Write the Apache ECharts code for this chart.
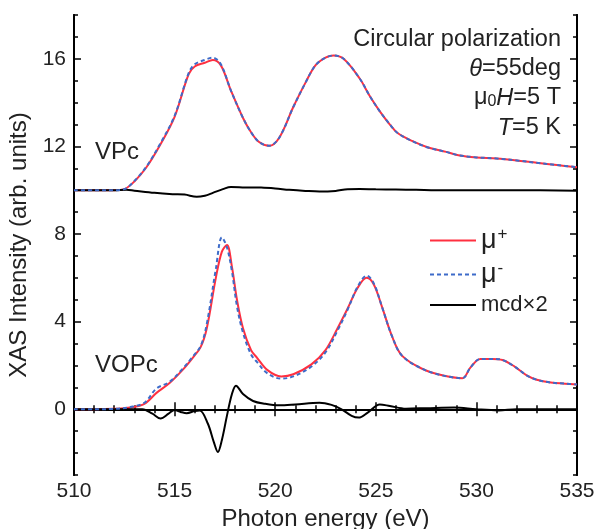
<!DOCTYPE html>
<html>
<head>
<meta charset="utf-8">
<script src="https://cdn.jsdelivr.net/npm/echarts@6/dist/echarts.min.js"></script>
<style>
  html, body { margin: 0; padding: 0; background: #fff; }
  #chart { width: 597px; height: 529px; }
</style>
</head>
<body>
<div id="chart"></div>
<script>
// VPc spectra (offset by +10)
const vpcEnergy = [510, 511, 512, 512.5, 513, 513.6, 514.3, 515, 515.7, 516.0, 516.5, 516.9, 517.3, 517.8, 518.4, 518.8, 519.2, 519.7, 520.2, 520.9, 521.5, 522, 522.5, 522.9, 523.4, 524.2, 524.7, 525.2, 525.7, 526.1, 526.8, 527.6, 528.5, 529.1, 530, 531, 532.1, 533, 534, 535]
const vpcMuPlus = [10.0, 10.0, 10.0, 10.05, 10.4, 11.05, 12.1, 13.35, 15.3, 15.65, 15.82, 15.95, 15.7, 14.55, 13.3, 12.65, 12.2, 12.03, 12.4, 13.8, 14.9, 15.7, 16.05, 16.15, 16.0, 15.1, 14.3, 13.6, 13.0, 12.6, 12.25, 11.95, 11.75, 11.6, 11.5, 11.45, 11.35, 11.25, 11.15, 11.05]
const vpcMuMinus = [10.0, 10.0, 10.0, 10.05, 10.42, 11.08, 12.15, 13.4, 15.35, 15.75, 15.95, 16.05, 15.75, 14.55, 13.3, 12.65, 12.2, 12.03, 12.4, 13.8, 14.9, 15.7, 16.05, 16.15, 16.0, 15.1, 14.3, 13.6, 13.0, 12.6, 12.25, 11.95, 11.75, 11.6, 11.5, 11.45, 11.35, 11.25, 11.15, 11.05]
const vpcMcdEnergy = [510, 512, 512.6, 513, 514, 514.9, 515.5, 516.1, 516.5, 516.9, 517.4, 517.8, 518.5, 519.3, 520, 520.7, 521.5, 522.2, 523, 523.6, 524.2, 525, 526, 527, 528, 530, 532, 535]
const vpcMcd = [10.0, 10.0, 10.02, 9.98, 9.88, 9.82, 9.8, 9.7, 9.75, 9.88, 10.05, 10.15, 10.13, 10.12, 10.08, 10.02, 9.97, 9.94, 9.97, 10.05, 10.06, 10.04, 10.03, 10.02, 10.0, 10.0, 10.0, 9.98]

// VOPc spectra
const vopcEnergy = [510, 511, 512, 512.8, 513.5, 514.1, 514.75, 515.4, 515.9, 516.3, 516.6, 517.05, 517.35, 517.6, 517.85, 518.1, 518.4, 518.8, 519.1, 519.6, 520.3, 520.9, 521.8, 522.5, 523.1, 523.6, 524.1, 524.55, 524.9, 525.3, 525.8, 526.3, 527.3, 528.3, 529.3, 529.7, 530.2, 530.8, 531.3, 531.9, 532.5, 533, 533.7, 534.4, 535]
const vopcMuPlus = [0, 0, 0.02, 0.08, 0.25, 0.75, 1.2, 1.8, 2.35, 2.85, 3.7, 6.0, 7.2, 7.5, 6.5, 5.0, 3.7, 2.7, 2.35, 1.8, 1.5, 1.6, 2.05, 2.7, 3.7, 4.6, 5.55, 6.0, 5.7, 4.7, 3.35, 2.45, 1.85, 1.55, 1.42, 1.9, 2.3, 2.3, 2.25, 1.95, 1.55, 1.35, 1.22, 1.17, 1.13]
const vopcMuMinus = [0, 0, 0.02, 0.1, 0.3, 0.95, 1.25, 1.85, 2.4, 2.9, 3.9, 6.4, 7.85, 7.4, 6.3, 4.7, 3.5, 2.5, 2.15, 1.65, 1.4, 1.5, 1.95, 2.6, 3.6, 4.55, 5.6, 6.1, 5.75, 4.7, 3.35, 2.45, 1.85, 1.55, 1.42, 1.9, 2.3, 2.3, 2.25, 1.95, 1.55, 1.35, 1.22, 1.17, 1.13]
const vopcMcdEnergy = [510, 512, 513.4, 513.9, 514.3, 514.7, 515.0, 515.3, 515.6, 516.0, 516.25, 516.65, 516.95, 517.15, 517.35, 517.6, 517.85, 518.05, 518.4, 518.9, 519.5, 520.2, 521, 522.2, 522.8, 523.3, 523.8, 524.15, 524.6, 525.2, 525.7, 526.5, 527.5, 528.9, 530, 531.1, 532, 535]
const vopcMcd = [0, 0, 0, -0.2, -0.42, -0.2, -0.03, -0.12, -0.18, -0.08, -0.05, -0.65, -1.5, -1.95, -1.4, -0.3, 0.7, 1.08, 0.7, 0.38, 0.25, 0.18, 0.22, 0.3, 0.2, 0.0, -0.3, -0.38, -0.15, 0.22, 0.15, 0.03, 0.05, 0.08, 0.0, -0.05, 0.0, 0.0]

const yLabelTicks = [0, 4, 8, 12, 16]

const RED = '#ff3040'
const BLUE = '#3d6bc9'
const INK = '#222'
const FONT = '"Liberation Sans"'

function pairs(xs, ys) {
  return xs.map((x, i) => [x, ys[i]])
}

const chart = echarts.init(document.getElementById('chart'))

function xAxisCfg(pos) {
  const bottom = pos === 'bottom'
  return {
    type: 'value',
    position: pos,
    min: 510,
    max: 535,
    interval: 5,
    axisLine: { show: true, lineStyle: { color: '#000', width: 2 } },
    axisTick: { show: true, inside: true, length: 7, lineStyle: { color: '#000', width: 1.5 } },
    minorTick: { show: true, splitNumber: 5, length: 4, lineStyle: { color: '#000', width: 1.5 } },
    axisLabel: { show: bottom, fontSize: 21, color: INK, margin: 6, fontFamily: 'Liberation Sans' },
    splitLine: { show: false },
    minorSplitLine: { show: false },
    name: bottom ? 'Photon energy (eV)' : '',
    nameLocation: 'middle',
    nameGap: 29,
    nameTextStyle: { fontSize: 24, color: INK, fontFamily: 'Liberation Sans' }
  }
}

function yAxisCfg(pos, major) {
  const left = pos === 'left'
  return {
    type: 'value',
    position: pos,
    min: -3,
    max: 18,
    interval: 1,
    axisLine: { show: true, lineStyle: { color: '#000', width: 2 } },
    axisTick: major
      ? { show: true, inside: true, length: 7, customValues: yLabelTicks, lineStyle: { color: '#000', width: 1.5 } }
      : { show: true, inside: true, length: 4, lineStyle: { color: '#000', width: 1.5 } },
    axisLabel: {
      show: left && !major,
      customValues: yLabelTicks,
      fontSize: 21, color: INK, margin: 8, fontFamily: 'Liberation Sans'
    },
    splitLine: { show: false },
    name: left && !major ? 'XAS Intensity (arb. units)' : '',
    nameLocation: 'middle',
    nameGap: 35,
    nameTextStyle: { fontSize: 24, color: INK, fontFamily: 'Liberation Sans' }
  }
}

function lineSeries(name, data, color, dashed) {
  return {
    name: name,
    type: 'line',
    data: data,
    smooth: 0.35,
    symbol: 'none',
    z: dashed ? 4 : 3,
    lineStyle: { color: color, width: 2, type: dashed ? [4, 3] : 'solid' },
    itemStyle: { color: color },
    emphasis: { disabled: true }
  }
}

const option = {
  animation: false,
  backgroundColor: '#fff',
  grid: { left: 74, right: 20, top: 15, bottom: 54, outerBoundsMode: 'none' },
  xAxis: [xAxisCfg('bottom'), xAxisCfg('top')],
  yAxis: [yAxisCfg('left', false), yAxisCfg('left', true), yAxisCfg('right', false), yAxisCfg('right', true)],
  legend: {
    orient: 'vertical',
    left: 424,
    top: 221,
    itemWidth: 46,
    itemHeight: 20,
    itemGap: 6,
    data: ['mu+', 'mu-', 'mcd'],
    itemStyle: { opacity: 0, borderWidth: 0 },
    formatter: name => {
      if (name === 'mu+') return '{m|μ}{s|+}'
      if (name === 'mu-') return '{m|μ}{s|-}'
      return '{t|mcd×2}'
    },
    textStyle: {
      color: INK,
      fontFamily: 'Liberation Sans',
      rich: {
        m: { fontSize: 27, color: INK, fontFamily: 'Liberation Sans' },
        s: { fontSize: 17, color: INK, fontFamily: 'Liberation Sans', verticalAlign: 'top', padding: [0, 0, 12, 1] },
        t: { fontSize: 22, color: INK, fontFamily: 'Liberation Sans' }
      }
    }
  },
  graphic: [
    { type: 'text', left: 95, top: 140, style: { text: 'VPc', font: '24px ' + FONT, fill: INK } },
    { type: 'text', left: 95, top: 353, style: { text: 'VOPc', font: '24px ' + FONT, fill: INK } },
    {
      type: 'text', x: 561, y: 40,
      style: { text: 'Circular polarization', align: 'right', verticalAlign: 'middle', font: '23.5px ' + FONT, fill: INK }
    },
    {
      type: 'text', x: 561, y: 69,
      style: {
        text: '{i|θ}{n|=55deg}', align: 'right', verticalAlign: 'middle',
        rich: {
          i: { font: 'italic 23.5px ' + FONT, fill: INK },
          n: { font: '23.5px ' + FONT, fill: INK }
        }
      }
    },
    {
      type: 'text', x: 561, y: 98,
      style: {
        text: '{n|μ}{sub|0}{i|H}{n|=5 T}', align: 'right', verticalAlign: 'middle',
        rich: {
          i: { font: 'italic 23.5px ' + FONT, fill: INK },
          n: { font: '23.5px ' + FONT, fill: INK },
          sub: { font: '16px ' + FONT, fill: INK, verticalAlign: 'bottom', padding: [8, 0, 0, 0] }
        }
      }
    },
    {
      type: 'text', x: 561, y: 128,
      style: {
        text: '{i|T}{n|=5 K}', align: 'right', verticalAlign: 'middle',
        rich: {
          i: { font: 'italic 23.5px ' + FONT, fill: INK },
          n: { font: '23.5px ' + FONT, fill: INK }
        }
      }
    }
  ],
  series: [
    lineSeries('mu+', pairs(vpcEnergy, vpcMuPlus), RED, false),
    lineSeries('mu-', pairs(vpcEnergy, vpcMuMinus), BLUE, true),
    lineSeries('mcd', pairs(vpcMcdEnergy, vpcMcd), '#000', false),
    lineSeries('mu+', pairs(vopcEnergy, vopcMuPlus), RED, false),
    lineSeries('mu-', pairs(vopcEnergy, vopcMuMinus), BLUE, true),
    lineSeries('mcd', pairs(vopcMcdEnergy, vopcMcd), '#000', false)
  ]
}

chart.setOption(option)
</script>
</body>
</html>
